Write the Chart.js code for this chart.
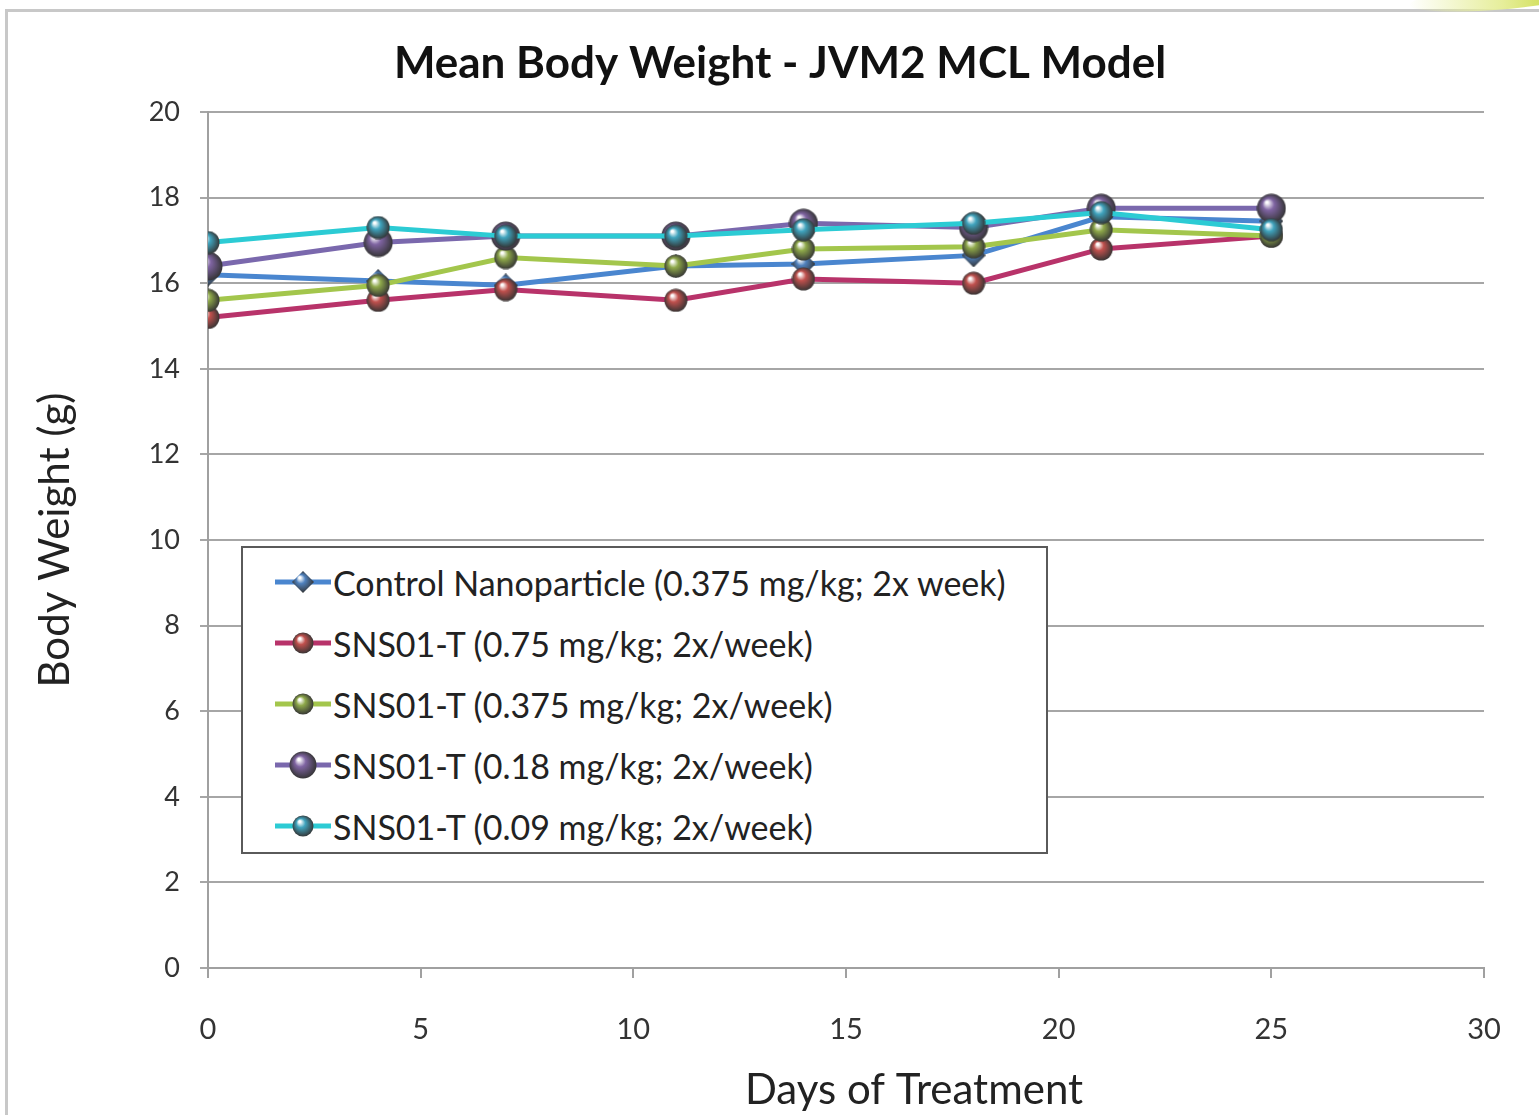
<!DOCTYPE html>
<html>
<head>
<meta charset="utf-8">
<script src="https://cdn.jsdelivr.net/npm/chart.js@4.4.1/dist/chart.umd.min.js"></script>
<style>
  html, body { margin: 0; padding: 0; background: #fff; }
  #wrap { position: relative; width: 1539px; height: 1115px; overflow: hidden; }
  #frame { position: absolute; left: 5px; top: 9px; width: 1560px; height: 1200px;
    border-top: 3px solid #c8c8c8; border-left: 3px solid #c8c8c8; }
  #swoosh { position: absolute; right: -40px; top: -12px; width: 170px; height: 22px;
    border-radius: 50%; background: linear-gradient(90deg, rgba(255,255,255,0), #e6ee9a 55%, #c2d42a); transform: rotate(-4deg); }
  canvas#chart { position: absolute; left: 0; top: 0; }
  #legend { position: absolute; left: 241px; top: 546px; width: 803px; height: 304px;
    border: 2px solid #5a5a5a; background: #fff; font-family: Lato, "Open Sans", sans-serif;
    font-size: 34px; color: #222; }
  .item { position: absolute; left: 32px; height: 40px; display: flex; align-items: center; }
  .item canvas { display: block; }
  .item span { margin-left: 2px; }
</style>
</head>
<body>
<div id="wrap">
  <div id="frame"></div>
  <div id="swoosh"></div>
  <canvas id="chart" width="1539" height="1115"></canvas>
  <div id="legend"></div>
</div>
<script>
const days = [0, 4, 7, 11, 14, 18, 21, 25];
const xTicks = [0, 5, 10, 15, 20, 25, 30];
const yTicks = [0, 2, 4, 6, 8, 10, 12, 14, 16, 18, 20];

const chartTitle = 'Mean Body Weight - JVM2 MCL Model';
const xTitle = 'Days of Treatment';
const yTitle = 'Body Weight (g)';
const seriesNames = [
  'Control Nanoparticle (0.375 mg/kg; 2x week)',
  'SNS01-T (0.75 mg/kg; 2x/week)',
  'SNS01-T (0.375 mg/kg; 2x/week)',
  'SNS01-T (0.18 mg/kg; 2x/week)',
  'SNS01-T (0.09 mg/kg; 2x/week)'
];
const control = [16.2, 16.05, 15.95, 16.4, 16.45, 16.65, 17.55, 17.45];
const dose075 = [15.2, 15.6, 15.85, 15.6, 16.1, 16.0, 16.8, 17.1];
const dose0375 = [15.6, 15.95, 16.6, 16.4, 16.8, 16.85, 17.25, 17.1];
const dose018 = [16.4, 16.95, 17.1, 17.1, 17.4, 17.3, 17.75, 17.75];
const dose009 = [16.95, 17.3, 17.1, 17.1, 17.25, 17.4, 17.65, 17.25];

const lineColors = ['#4a86cf', '#b8336a', '#a3c64c', '#7a68ad', '#2ccbd4'];
const markColors = ['#4f81bd', '#c0504d', '#8ea84a', '#7f64a2', '#3fa3bd'];
const markSizes = [24, 24, 24, 30, 24];

function sphere(color, d, diamond) {
  const c = document.createElement('canvas');
  c.width = d; c.height = d;
  const g = c.getContext('2d');
  const r = d / 2;
  const grad = g.createRadialGradient(r * 0.7, r * 0.6, 1, r, r, r);
  grad.addColorStop(0, '#ffffff');
  grad.addColorStop(0.35, color);
  grad.addColorStop(1, '#333333');
  g.fillStyle = grad;
  g.beginPath();
  if (diamond) {
    g.moveTo(r, 0); g.lineTo(d, r); g.lineTo(r, d); g.lineTo(0, r); g.closePath();
  } else {
    g.arc(r, r, r - 0.5, 0, Math.PI * 2);
  }
  g.fill();
  return c;
}

const allValues = [control, dose075, dose0375, dose018, dose009];
const markers = markColors.map((c, i) => sphere(c, markSizes[i], i === 0));

const datasets = allValues.map((vals, i) => ({
  label: seriesNames[i],
  data: days.map((d, k) => ({ x: d, y: vals[k] })),
  borderColor: lineColors[i],
  backgroundColor: lineColors[i],
  borderWidth: 5,
  tension: 0,
  pointStyle: markers[i],
  order: 4 - i
}));

const legend = document.getElementById('legend');
seriesNames.forEach((name, i) => {
  const row = document.createElement('div');
  row.className = 'item';
  row.style.top = (14 + i * 61) + 'px';
  const ic = document.createElement('canvas');
  ic.width = 56; ic.height = 30;
  const g = ic.getContext('2d');
  g.strokeStyle = lineColors[i];
  g.lineWidth = 5;
  g.beginPath(); g.moveTo(0, 15); g.lineTo(56, 15); g.stroke();
  const m = sphere(markColors[i], markSizes[i] - 2, i === 0);
  g.drawImage(m, 28 - m.width / 2, 15 - m.height / 2);
  const sp = document.createElement('span');
  sp.textContent = name;
  row.appendChild(ic);
  row.appendChild(sp);
  legend.appendChild(row);
});

const font = 'Lato, "Open Sans", sans-serif';

// title and x-axis title sit off-centre in the original, so draw them by hand
const titles = {
  id: 'titles',
  afterDraw(chart) {
    const ctx = chart.ctx;
    ctx.save();
    ctx.textAlign = 'center';
    ctx.textBaseline = 'middle';
    ctx.fillStyle = '#111';
    ctx.font = 'bold 44px ' + font;
    ctx.fillText(chartTitle, 780, 64);
    ctx.fillStyle = '#222';
    ctx.font = '42px ' + font;
    ctx.fillText(xTitle, 914, 1090);
    ctx.restore();
  }
};

new Chart(document.getElementById('chart'), {
  type: 'line',
  data: { datasets },
  plugins: [titles],
  options: {
    responsive: false,
    animation: false,
    layout: { padding: { left: 0, right: 55, top: 112, bottom: 0 } },
    plugins: {
      legend: { display: false },
      tooltip: { enabled: false },
      title: { display: false }
    },
    scales: {
      x: {
        type: 'linear',
        min: 0,
        max: 30,
        afterBuildTicks: (s) => { s.ticks = xTicks.map(v => ({ value: v })); },
        afterFit: (s) => { s.height = 147; },
        grid: { drawOnChartArea: false, drawTicks: true, tickLength: 10, color: '#a0a0a0', lineWidth: 2 },
        border: { color: '#a0a0a0', width: 2 },
        ticks: { color: '#333', font: { family: font, size: 29 }, padding: 34, maxRotation: 0 }
      },
      y: {
        min: 0,
        max: 20,
        afterBuildTicks: (s) => { s.ticks = yTicks.map(v => ({ value: v })); },
        afterFit: (s) => { s.width = 208; },
        grid: { color: '#a6a6a6', lineWidth: 2, tickLength: 8 },
        border: { color: '#a0a0a0', width: 2 },
        ticks: { color: '#333', font: { family: font, size: 27 }, padding: 20 },
        title: { display: true, text: yTitle, color: '#222', font: { family: font, size: 42 }, padding: { top: 30, bottom: 0 } }
      }
    }
  }
});
</script>
</body>
</html>
